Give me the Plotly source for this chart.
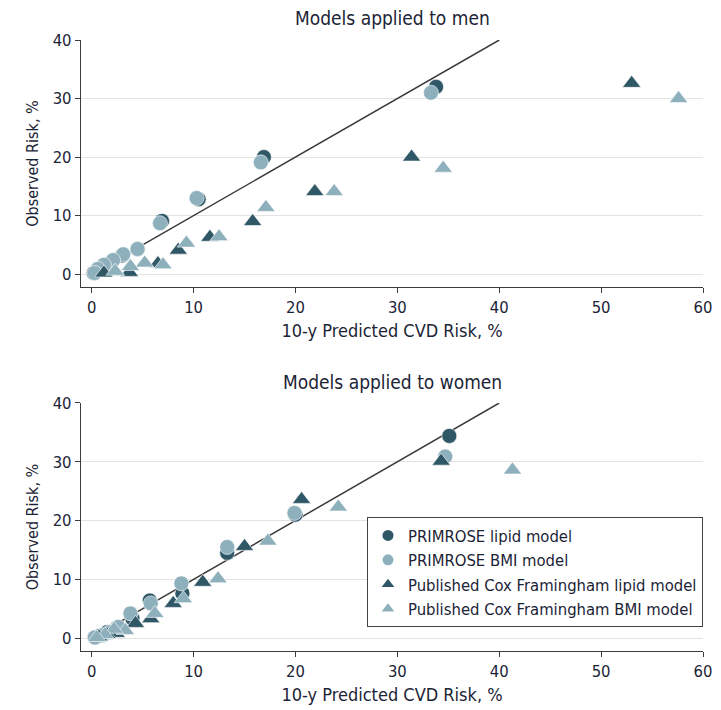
import plotly.graph_objects as go

# ---------------- data ----------------
series_names = ["PRIMROSE lipid model", "PRIMROSE BMI model",
                "Published Cox Framingham lipid model", "Published Cox Framingham BMI model"]

# Men
men_primrose_lipid_x = [33.8, 16.9, 10.5, 6.9, 4.5, 3.0, 2.0, 1.3, 0.7, 0.2]
men_primrose_lipid_y = [32.0, 20.0, 12.8, 9.1, 4.3, 3.2, 2.2, 1.5, 0.8, 0.2]
men_primrose_bmi_x = [33.3, 16.6, 10.3, 6.7, 4.5, 3.1, 2.1, 1.2, 0.6, 0.3]
men_primrose_bmi_y = [31.0, 19.1, 13.0, 8.7, 4.3, 3.4, 2.4, 1.6, 0.9, 0.2]
men_cox_lipid_x = [53.0, 31.4, 21.9, 15.8, 11.6, 8.5, 6.5, 3.7, 2.3, 1.2]
men_cox_lipid_y = [32.6, 20.0, 14.1, 9.0, 6.3, 4.1, 1.8, 0.3, 0.5, 0.2]
men_cox_bmi_x = [57.6, 34.5, 23.8, 17.1, 12.5, 9.3, 7.0, 5.2, 3.8, 2.3]
men_cox_bmi_y = [30.0, 18.1, 14.1, 11.4, 6.4, 5.3, 1.6, 1.9, 1.3, 0.5]

# Women
women_primrose_lipid_x = [35.1, 20.0, 13.3, 8.9, 5.7, 4.0, 2.5, 1.5, 0.8, 0.3]
women_primrose_lipid_y = [34.4, 21.0, 14.5, 7.6, 6.4, 3.3, 1.8, 1.0, 0.4, 0.1]
women_primrose_bmi_x = [34.7, 19.9, 13.3, 8.8, 5.8, 3.8, 2.6, 1.8, 1.1, 0.3]
women_primrose_bmi_y = [30.9, 21.3, 15.5, 9.3, 5.9, 4.2, 1.9, 1.0, 0.5, 0.1]
women_cox_lipid_x = [34.3, 20.6, 15.0, 10.9, 8.0, 5.8, 4.3, 2.4, 1.5, 0.7]
women_cox_lipid_y = [30.1, 23.6, 15.6, 9.5, 5.9, 3.3, 2.5, 0.8, 0.6, 0.2]
women_cox_bmi_x = [41.3, 24.2, 17.3, 12.4, 9.0, 6.2, 3.3, 2.2, 1.3, 0.5]
women_cox_bmi_y = [28.6, 22.3, 16.5, 10.1, 6.7, 4.2, 1.3, 1.5, 0.6, 0.1]

identity_line = [0, 40]
x_ticks = [0, 10, 20, 30, 40, 50, 60]
y_ticks = [0, 10, 20, 30, 40]

panel_titles = ["Models applied to men", "Models applied to women"]
x_title = "10-y Predicted CVD Risk, %"
y_title = "Observed Risk, %"

# ---------------- style ----------------
DARK = "#2f5766"
LIGHT = "#8eb0bc"
TEXT = "#1b2436"
FONT = "Liberation Sans Narrow, DejaVu Sans Condensed, Roboto Condensed, Arial Narrow, Roboto, sans-serif"

styles = [
    dict(color=DARK, symbol="circle"),
    dict(color=LIGHT, symbol="circle"),
    dict(color=DARK, symbol="triangle-up"),
    dict(color=LIGHT, symbol="triangle-up"),
]

fig = go.Figure()

panels = [
    ("x", "y", [(men_primrose_lipid_x, men_primrose_lipid_y), (men_primrose_bmi_x, men_primrose_bmi_y),
                (men_cox_lipid_x, men_cox_lipid_y), (men_cox_bmi_x, men_cox_bmi_y)]),
    ("x2", "y2", [(women_primrose_lipid_x, women_primrose_lipid_y), (women_primrose_bmi_x, women_primrose_bmi_y),
                  (women_cox_lipid_x, women_cox_lipid_y), (women_cox_bmi_x, women_cox_bmi_y)]),
]

for pi, (xa, ya, data) in enumerate(panels):
    fig.add_trace(go.Scatter(x=identity_line, y=identity_line, mode="lines",
                             line=dict(color="#3a3a3a", width=1.5),
                             xaxis=xa, yaxis=ya, showlegend=False, hoverinfo="skip"))
    for si, (xs, ys) in enumerate(data):
        st = styles[si]
        size = 15 if st["symbol"] == "circle" else 16
        fig.add_trace(go.Scatter(
            x=xs, y=ys, mode="markers", name=series_names[si],
            marker=dict(color=st["color"], symbol=st["symbol"], size=size,
                        line=dict(color="white", width=0.6)),
            xaxis=xa, yaxis=ya, showlegend=False,
        ))

# legend-only entries with smaller symbols, as in the reference key
for si, name in enumerate(series_names):
    st = styles[si]
    fig.add_trace(go.Scatter(
        x=[None], y=[None], mode="markers", name=name,
        marker=dict(color=st["color"], symbol=st["symbol"], size=11),
        xaxis="x2", yaxis="y2", showlegend=True,
    ))

axis_common = dict(
    showline=True, linecolor="#3c3c3c", linewidth=1.3,
    ticks="outside", ticklen=5, tickwidth=1.2, tickcolor="#3c3c3c",
    tickfont=dict(family=FONT, size=16.5, color=TEXT),
    zeroline=False, automargin=False,
)
xtitle_font = dict(family=FONT, size=18, color=TEXT)
ytitle_font = dict(family=FONT, size=16, color=TEXT)

# page body has an 8px margin; size the figure so it fills the 721x710 window
fig.update_layout(
    width=713, height=702,
    margin=dict(l=73, r=18, t=32, b=59),
    plot_bgcolor="white", paper_bgcolor="white",
    font=dict(family=FONT, color=TEXT),
    xaxis=dict(domain=[0, 1], anchor="y", range=[-1.05, 60], tickvals=x_ticks, showgrid=False,
               title=dict(text=x_title, font=xtitle_font, standoff=8),
               **axis_common),
    yaxis=dict(domain=[0.5957, 1], anchor="x", range=[-2.2, 40], tickvals=y_ticks,
               showgrid=True, gridcolor="#e3e3e3", gridwidth=1,
               title=dict(text=y_title, font=ytitle_font, standoff=10),
               **axis_common),
    xaxis2=dict(domain=[0, 1], anchor="y2", range=[-1.05, 60], tickvals=x_ticks, showgrid=False,
                title=dict(text=x_title, font=xtitle_font, standoff=8),
                **axis_common),
    yaxis2=dict(domain=[0, 0.4059], anchor="x2", range=[-2.2, 40], tickvals=y_ticks,
                showgrid=True, gridcolor="#e3e3e3", gridwidth=1,
                title=dict(text=y_title, font=ytitle_font, standoff=10),
                **axis_common),
    legend=dict(x=1.0, xanchor="right", y=0.219, yanchor="top",
                bgcolor="white", bordercolor="#444444", borderwidth=1,
                font=dict(family=FONT, size=16.5, color=TEXT),
                itemsizing="trace", tracegroupgap=0),
    showlegend=True,
    annotations=[
        dict(text=panel_titles[0], xref="paper", yref="paper", x=0.5, y=1.0, yshift=22,
             xanchor="center", yanchor="middle", showarrow=False,
             font=dict(family=FONT, size=19, color=TEXT)),
        dict(text=panel_titles[1], xref="paper", yref="paper", x=0.5, y=0.4059, yshift=21,
             xanchor="center", yanchor="middle", showarrow=False,
             font=dict(family=FONT, size=19, color=TEXT)),
    ],
)

fig.write_html("out.html")
